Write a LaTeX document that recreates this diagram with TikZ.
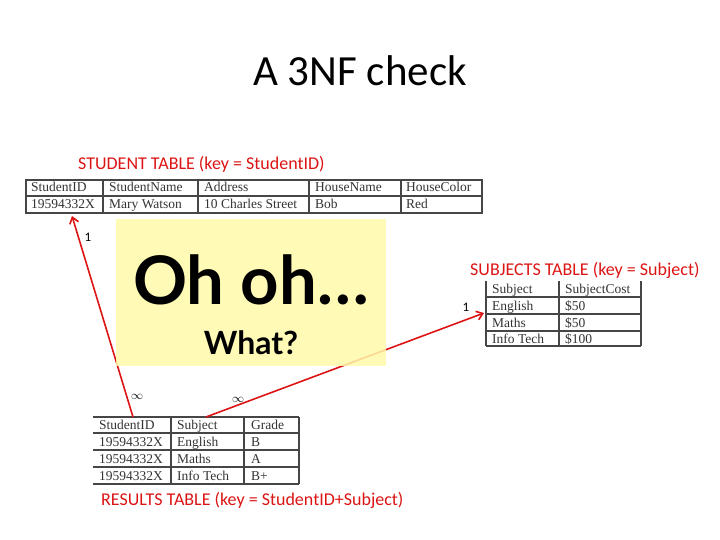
\documentclass[tikz,border=0pt]{standalone}
\usepackage{fontspec}
\setmainfont{Carlito}
\newfontfamily\tabfont{Liberation Serif}
\newfontfamily\ohfont{Lato}
\usetikzlibrary{arrows.meta}
\definecolor{keyred}{RGB}{220,20,20}
\definecolor{notepad}{RGB}{255,250,170}
\definecolor{rule}{RGB}{70,70,70}
\tikzset{
  cell/.style={anchor=base west, inner sep=0pt, text=black!80,
    font=\tabfont\fontsize{13.5}{13.5}\selectfont},
  caption/.style={text=keyred, inner sep=0pt, font=\fontsize{18}{18}\selectfont},
  grid/.style={draw=rule, line width=1.2pt},
  link/.style={draw=keyred, line width=1.6pt, -{Straight Barb[length=6pt,width=9pt]}},
  card/.style={font=\fontsize{13}{13}\selectfont, inner sep=0pt}
}
\begin{document}
\begin{tikzpicture}[x=1pt, y=-1pt]
\useasboundingbox (0,0) rectangle (720,540);

\node (title) at (360,71) {\fontsize{43}{43}\selectfont A 3NF check};

% student table
\node[caption, anchor=west] (studcap) at (78,164) {STUDENT TABLE (key = StudentID)};
\draw[grid] (26,180) rectangle (482,213);
\draw[grid] (26,196) -- (482,196);
\foreach \x in {103,198,309,401} \draw[grid] (\x,180) -- (\x,213);
\node[cell] (s11) at (31,192) {StudentID};
\node[cell] (s12) at (109,192) {StudentName};
\node[cell] (s13) at (204,192) {Address};
\node[cell] (s14) at (315,192) {HouseName};
\node[cell] (s15) at (406,192) {HouseColor};
\node[cell] (s21) at (31,209) {19594332X};
\node[cell] (s22) at (109,209) {Mary Watson};
\node[cell] (s23) at (204,209) {10 Charles Street};
\node[cell] (s24) at (315,209) {Bob};
\node[cell] (s25) at (406,209) {Red};
\coordinate (studkey) at (72,216);

% subjects table
\node[caption, anchor=west] (subjcap) at (470,270) {SUBJECTS TABLE (key = Subject)};
\foreach \y in {297,314,331,346} \draw[grid] (486,\y) -- (641,\y);
\foreach \x in {486,559,641} \draw[grid] (\x,281) -- (\x,346);
\node[cell] (j11) at (492,293) {Subject};
\node[cell] (j12) at (565,293) {SubjectCost};
\node[cell] (j21) at (492,310) {English};
\node[cell] (j22) at (565,310) {\$50};
\node[cell] (j31) at (492,327) {Maths};
\node[cell] (j32) at (565,327) {\$50};
\node[cell] (j41) at (492,343) {Info Tech};
\node[cell] (j42) at (565,343) {\$100};
\coordinate (subjkey) at (484,313);

% results table
\foreach \y in {417,433,450,467,484} \draw[grid] (93,\y) -- (299,\y);
\foreach \x in {171,244,299} \draw[grid] (\x,417) -- (\x,484);
\node[cell] (r11) at (99,429) {StudentID};
\node[cell] (r12) at (177,429) {Subject};
\node[cell] (r13) at (251,429) {Grade};
\node[cell] (r21) at (99,446) {19594332X};
\node[cell] (r22) at (177,446) {English};
\node[cell] (r23) at (251,446) {B};
\node[cell] (r31) at (99,463) {19594332X};
\node[cell] (r32) at (177,463) {Maths};
\node[cell] (r33) at (251,463) {A};
\node[cell] (r41) at (99,480) {19594332X};
\node[cell] (r42) at (177,480) {Info Tech};
\node[cell] (r43) at (251,480) {B+};
\node[caption, anchor=west] (rescap) at (101,500) {RESULTS TABLE (key = StudentID+Subject)};
\coordinate (resid) at (133,417);
\coordinate (ressubj) at (206,417);

% links
\draw[link] (resid) -- (studkey);
\draw[link] (ressubj) -- (subjkey);
\node[card] (one1) at (88,237) {1};
\node[card] (one2) at (466,307) {1};
\node[card] (many1) at (137,397) {$\infty$};
\node[card] (many2) at (238,400) {$\infty$};

% note
\fill[notepad, opacity=0.85] (116,219) rectangle (386,366);
\node[inner sep=0pt] (oh) at (251,280) {\ohfont\bfseries\fontsize{67}{67}\selectfont Oh oh\ldots};
\node[inner sep=0pt] (what) at (251,343) {\ohfont\bfseries\fontsize{32}{32}\selectfont What?};
\end{tikzpicture}
\end{document}
